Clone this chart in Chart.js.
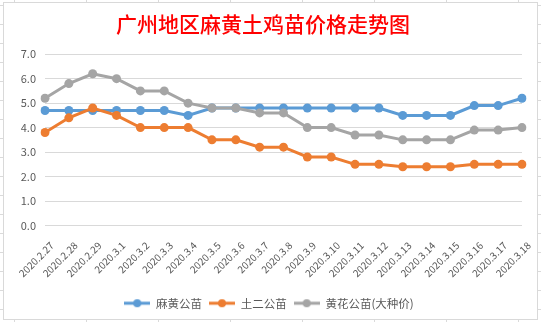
<!DOCTYPE html>
<html>
<head>
<meta charset="utf-8">
<script src="https://cdn.jsdelivr.net/npm/chart.js@4"></script>
<style>
  html, body { margin: 0; padding: 0; }
  body {
    width: 541px; height: 322px; overflow: hidden; position: relative;
    background-color: #fff;
    background-image:
      linear-gradient(to right, #dadada 1px, transparent 1px),
      linear-gradient(to bottom, #dadada 1px, transparent 1px);
    background-size: 72px 19px;
    background-position: 14px 5px;
  }
  #frame {
    position: absolute; left: 3px; top: 2px;
    width: 535px; height: 318px; box-sizing: border-box;
    border: 1px solid #d9d9d9; background: #fff;
  }
  canvas { display: block; }
</style>
</head>
<body>
<div id="frame"><canvas id="lineChart" width="533" height="316"></canvas></div>
<script>
const days = ['2020.2.27', '2020.2.28', '2020.2.29', '2020.3.1', '2020.3.2', '2020.3.3', '2020.3.4',
  '2020.3.5', '2020.3.6', '2020.3.7', '2020.3.8', '2020.3.9', '2020.3.10', '2020.3.11',
  '2020.3.12', '2020.3.13', '2020.3.14', '2020.3.15', '2020.3.16', '2020.3.17', '2020.3.18']

const mahuang = [4.7, 4.7, 4.7, 4.7, 4.7, 4.7, 4.5, 4.8, 4.8, 4.8, 4.8, 4.8, 4.8, 4.8, 4.8, 4.5, 4.5, 4.5, 4.9, 4.9, 5.2]
const tuer = [3.8, 4.4, 4.8, 4.5, 4.0, 4.0, 4.0, 3.5, 3.5, 3.2, 3.2, 2.8, 2.8, 2.5, 2.5, 2.4, 2.4, 2.4, 2.5, 2.5, 2.5]
const huanghua = [5.2, 5.8, 6.2, 6.0, 5.5, 5.5, 5.0, 4.8, 4.8, 4.6, 4.6, 4.0, 4.0, 3.7, 3.7, 3.5, 3.5, 3.5, 3.9, 3.9, 4.0]

const seriesNames = ['麻黄公苗', '土二公苗', '黄花公苗(大种价)']
const seriesColors = ['#5B9BD5', '#ED7D31', '#A5A5A5']

const fontFamily = '"Noto Sans CJK SC", "Liberation Sans", sans-serif'

// little line-with-dot marker for the legend, like Excel
function legendMark(color)
{
    const c = document.createElement('canvas')
    c.width = 26
    c.height = 10
    const g = c.getContext('2d')
    g.strokeStyle = color
    g.lineWidth = 3
    g.beginPath()
    g.moveTo(0, 5)
    g.lineTo(26, 5)
    g.stroke()
    g.fillStyle = color
    g.beginPath()
    g.arc(13, 5, 4, 0, Math.PI * 2)
    g.fill()
    return c
}

const marks = seriesColors.map(legendMark)

function makeSet(i, values, order)
{
    return {
        label: seriesNames[i],
        data: values,
        borderColor: seriesColors[i],
        backgroundColor: seriesColors[i],
        borderWidth: 3,
        pointRadius: 4.5,
        pointHoverRadius: 4.5,
        pointBorderWidth: 0,
        tension: 0,
        order: order
    }
}

// nudge the legend a bit to the right, the excel one is not centred on the plot
const legendNudge = {
    id: 'legendNudge',
    afterLayout: chart => {
        chart.legend.left += 6
        chart.legend.right += 6
    }
}

const ctx = document.getElementById('lineChart').getContext('2d')

const myChart = new Chart(ctx, {
    type: 'line',
    data: {
        labels: days,
        datasets: [makeSet(0, mahuang, 2), makeSet(1, tuer, 1), makeSet(2, huanghua, 0)]
    },
    plugins: [legendNudge],
    options: {
        responsive: false,
        animation: false,
        devicePixelRatio: 1,
        layout: { padding: { left: 0, right: 15, top: 0, bottom: 0 } },
        plugins: {
            tooltip: { enabled: false },
            title: {
                display: true,
                text: '广州地区麻黄土鸡苗价格走势图',
                color: '#FF0000',
                font: { family: fontFamily, size: 21, weight: '500' },
                padding: { top: 8, bottom: 18 }
            },
            legend: {
                position: 'bottom',
                labels: {
                    usePointStyle: true,
                    pointStyleWidth: 26,
                    boxHeight: 10,
                    padding: 7,
                    color: '#595959',
                    font: { family: fontFamily, size: 11.5 },
                    sort: (a, b) => a.datasetIndex - b.datasetIndex,
                    generateLabels: chart => {
                        const items = Chart.defaults.plugins.legend.labels.generateLabels(chart)
                        items.forEach(it => { it.pointStyle = marks[it.datasetIndex] })
                        return items
                    }
                }
            }
        },
        scales: {
            x: {
                afterFit: s => { s.height = 65 },
                grid: { display: false },
                border: { display: false },
                ticks: {
                    minRotation: 45,
                    maxRotation: 45,
                    autoSkip: false,
                    padding: 6,
                    labelOffset: 7,
                    color: '#595959',
                    font: { family: fontFamily, size: 10 }
                }
            },
            y: {
                min: 0,
                max: 7,
                afterFit: s => { s.width = 41 },
                grid: { color: '#d9d9d9', lineWidth: 1, drawTicks: false },
                border: { display: false },
                ticks: {
                    stepSize: 1,
                    padding: 9,
                    color: '#595959',
                    font: { family: fontFamily, size: 11 },
                    callback: v => Number(v).toFixed(1)
                }
            }
        }
    }
})
</script>
</body>
</html>
